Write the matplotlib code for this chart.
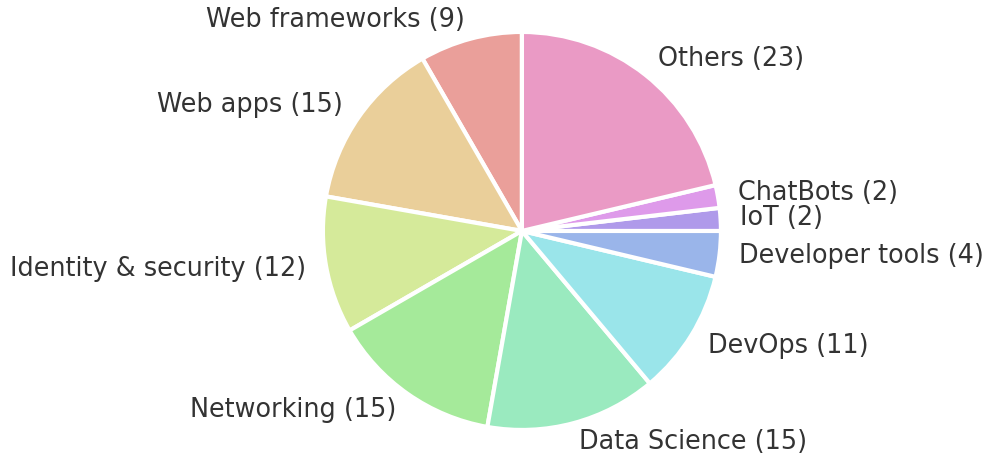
# Project categories pie chart

import matplotlib
matplotlib.use("Agg")
import matplotlib.pyplot as plt
import seaborn as sns

categories = [
    "Web frameworks",
    "Web apps",
    "Identity & security",
    "Networking",
    "Data Science",
    "DevOps",
    "Developer tools",
    "IoT",
    "ChatBots",
    "Others",
]
counts = [9, 15, 12, 15, 15, 11, 4, 2, 2, 23]

plt.rcParams["font.family"] = ["DejaVu Sans"]

labels = [f"{c} ({n})" for c, n in zip(categories, counts)]
# hls palette faded towards white (like alpha 0.6 on a white background)
colors = [tuple(0.6 * v + 0.4 for v in c) for c in sns.color_palette("hls", len(categories))]

fig = plt.figure(figsize=(9.97, 4.62), dpi=100)
ax = fig.add_axes([0.274, -0.0384, 0.499, 1.077])

wedges, texts = ax.pie(
    counts,
    labels=labels,
    colors=colors,
    startangle=90,
    wedgeprops={"linewidth": 3, "edgecolor": "white"},
    textprops={"fontsize": 18.4, "color": "#333333"},
)
ax.set_aspect("equal")

fig.savefig("out.png", dpi=100)
